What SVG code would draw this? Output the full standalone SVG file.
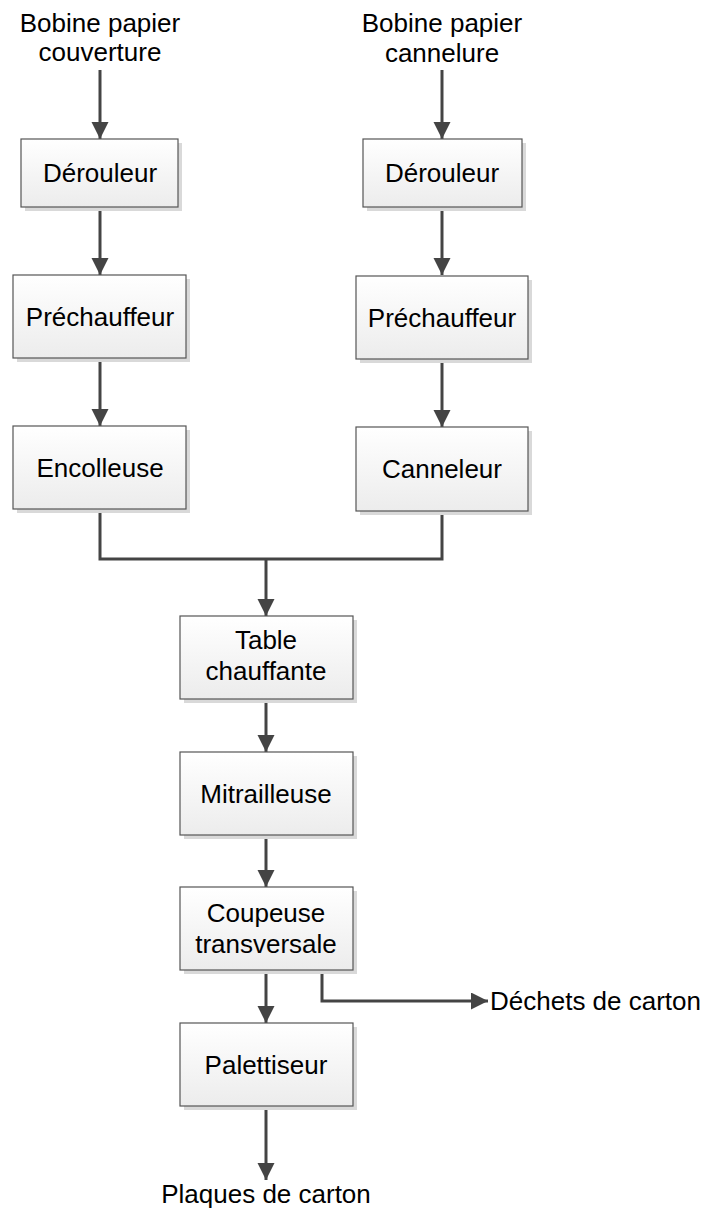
<svg xmlns="http://www.w3.org/2000/svg" width="707" height="1211" viewBox="0 0 707 1211">
<style>
text{font-family:"Liberation Sans",Arial,sans-serif;font-size:26px;fill:#000;text-anchor:middle}
.box{fill:url(#g);stroke:#555;stroke-width:1.2}
.sh{fill:#d9d9d9}
.ln{fill:none;stroke:#444;stroke-width:3}
</style>
<defs>
<linearGradient id="g" x1="0" y1="0" x2="0" y2="1">
<stop offset="0" stop-color="#ffffff"/>
<stop offset="1" stop-color="#ececec"/>
</linearGradient>
<marker id="ar" markerUnits="userSpaceOnUse" markerWidth="18" markerHeight="18" refX="17" refY="8.5" orient="auto">
<path d="M0,0 L17,8.5 L0,17 z" fill="#444"/>
</marker>
</defs>
<g id="connectors">
<line class="ln" x1="100" y1="70" x2="100" y2="139" marker-end="url(#ar)"/>
<line class="ln" x1="442" y1="70" x2="442" y2="139" marker-end="url(#ar)"/>
<line class="ln" x1="100" y1="207" x2="100" y2="275" marker-end="url(#ar)"/>
<line class="ln" x1="442" y1="207" x2="442" y2="275" marker-end="url(#ar)"/>
<line class="ln" x1="100" y1="358" x2="100" y2="426" marker-end="url(#ar)"/>
<line class="ln" x1="442" y1="359" x2="442" y2="427" marker-end="url(#ar)"/>
<polyline class="ln" points="100,509 100,559 442,559 442,511"/>
<line class="ln" x1="266" y1="559" x2="266" y2="616" marker-end="url(#ar)"/>
<line class="ln" x1="266" y1="699" x2="266" y2="752" marker-end="url(#ar)"/>
<line class="ln" x1="266" y1="835" x2="266" y2="887" marker-end="url(#ar)"/>
<line class="ln" x1="266" y1="970" x2="266" y2="1023" marker-end="url(#ar)"/>
<polyline class="ln" points="322,970 322,1001 488,1001" marker-end="url(#ar)"/>
<line class="ln" x1="266" y1="1106" x2="266" y2="1180" marker-end="url(#ar)"/>
</g>
<g id="src-couverture">
<text x="100" y="32">Bobine papier</text>
<text x="100" y="61">couverture</text>
</g>
<g id="src-cannelure">
<text x="442" y="32">Bobine papier</text>
<text x="442" y="62">cannelure</text>
</g>
<g id="derouleur1">
<rect class="sh" x="25" y="143" width="157" height="68"/>
<rect class="box" x="21" y="139" width="157" height="68"/>
<text x="100" y="182">Dérouleur</text>
</g>
<g id="derouleur2">
<rect class="sh" x="367" y="143" width="159" height="68"/>
<rect class="box" x="363" y="139" width="159" height="68"/>
<text x="442" y="182">Dérouleur</text>
</g>
<g id="prechauffeur1">
<rect class="sh" x="17" y="279" width="173" height="83"/>
<rect class="box" x="13" y="275" width="173" height="83"/>
<text x="100" y="326">Préchauffeur</text>
</g>
<g id="prechauffeur2">
<rect class="sh" x="360" y="280" width="172" height="83"/>
<rect class="box" x="356" y="276" width="172" height="83"/>
<text x="442" y="327">Préchauffeur</text>
</g>
<g id="encolleuse">
<rect class="sh" x="17" y="430" width="173" height="83"/>
<rect class="box" x="13" y="426" width="173" height="83"/>
<text x="100" y="477">Encolleuse</text>
</g>
<g id="canneleur">
<rect class="sh" x="360" y="431" width="172" height="84"/>
<rect class="box" x="356" y="427" width="172" height="84"/>
<text x="442" y="478">Canneleur</text>
</g>
<g id="table">
<rect class="sh" x="184" y="620" width="173" height="83"/>
<rect class="box" x="180" y="616" width="173" height="83"/>
<text x="266" y="649">Table</text>
<text x="266" y="680">chauffante</text>
</g>
<g id="mitrailleuse">
<rect class="sh" x="184" y="756" width="173" height="83"/>
<rect class="box" x="180" y="752" width="173" height="83"/>
<text x="266" y="803">Mitrailleuse</text>
</g>
<g id="coupeuse">
<rect class="sh" x="184" y="891" width="173" height="83"/>
<rect class="box" x="180" y="887" width="173" height="83"/>
<text x="266" y="922">Coupeuse</text>
<text x="266" y="953">transversale</text>
</g>
<g id="palettiseur">
<rect class="sh" x="184" y="1027" width="173" height="83"/>
<rect class="box" x="180" y="1023" width="173" height="83"/>
<text x="266" y="1074">Palettiseur</text>
</g>
<g id="dechets">
<text x="490" y="1010" style="text-anchor:start">Déchets de carton</text>
</g>
<g id="plaques">
<text x="266" y="1203">Plaques de carton</text>
</g>
</svg>
